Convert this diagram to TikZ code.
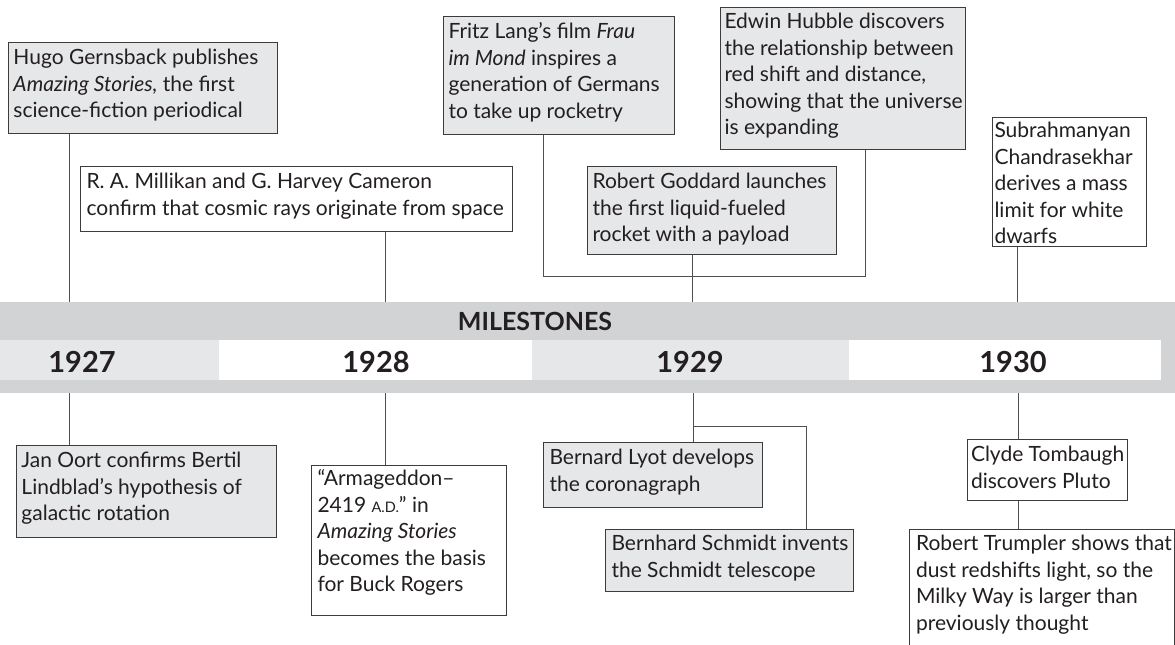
\documentclass[tikz,border=0pt]{standalone}
\usepackage{fontspec}
\setmainfont{Lato}
\definecolor{bandgray}{HTML}{D1D3D4}
\definecolor{cellgray}{HTML}{E6E7E8}
\definecolor{boxgray}{HTML}{E6E7E8}
\definecolor{boxline}{HTML}{3C3C3C}
\definecolor{linkline}{HTML}{505050}
\definecolor{inktext}{HTML}{231F20}
% text block of an event box: width, height, left inset, first baseline, lines
\newcommand{\evtext}[5]{\parbox[c][#2][t]{#1}{\vspace*{\dimexpr#4-0.7\baselineskip\relax}%
  \hspace*{#3}\begin{tabular}[t]{@{}l@{}}#5\end{tabular}}}
\newcommand{\fakesc}[1]{{\fontsize{14.5}{26.5}\selectfont #1}}
\begin{document}
\begin{tikzpicture}[x=1pt,y=-1pt,
  evbox/.style={draw=boxline, line width=1pt, anchor=north west, inner sep=0pt,
    text=inktext, font=\fontsize{21}{26.5}\selectfont},
  graybox/.style={evbox, fill=boxgray},
  whitebox/.style={evbox, fill=white},
  link/.style={draw=linkline, line width=1pt},
  yearlbl/.style={font=\fontsize{29}{30}\selectfont\bfseries, text=inktext, inner sep=0pt},
  cell/.style={draw=none, inner sep=0pt, anchor=north west},
]
\useasboundingbox (0,0) rectangle (1175,645);
\clip (0,0) rectangle (1175,645);

% timeline band and year cells
\node[cell, fill=bandgray, minimum width=1175pt, minimum height=91pt] (band) at (0,302) {};
\node[cell, fill=cellgray, minimum width=219pt, minimum height=40pt] (c27) at (0,340) {};
\node[cell, fill=white, minimum width=313pt, minimum height=40pt] (c28) at (219,340) {};
\node[cell, fill=cellgray, minimum width=317pt, minimum height=40pt] (c29) at (532,340) {};
\node[cell, fill=white, minimum width=312pt, minimum height=40pt] (c30) at (849,340) {};
\node[font=\fontsize{25}{26}\selectfont\bfseries, text=inktext, inner sep=0pt] (title) at (535,321) {MILESTONES};
\node[yearlbl] (y27) at (82,362) {1927};
\node[yearlbl] (y28) at (376,362) {1928};
\node[yearlbl] (y29) at (690,362) {1929};
\node[yearlbl] (y30) at (1013,362) {1930};

% events above the band
\node[graybox] (gern) at (7.5,42) {\evtext{269.5pt}{91pt}{5.5pt}{22pt}{Hugo Gernsback publishes\\ \textit{Amazing Stories,} the first\\ science-fiction periodical}};
\node[whitebox] (mill) at (80,166) {\evtext{432pt}{65pt}{6pt}{22pt}{R. A. Millikan and G. Harvey Cameron\\ confirm that cosmic rays originate from space}};
\node[graybox] (lang) at (443,16) {\evtext{231pt}{118pt}{5pt}{22pt}{Fritz Lang's film \textit{Frau}\\ \textit{im Mond} inspires a\\ generation of Germans\\ to take up rocketry}};
\node[graybox] (hubb) at (720,7) {\evtext{245pt}{142pt}{4pt}{21pt}{Edwin Hubble discovers\\ the relationship between\\ red shift and distance,\\ showing that the universe\\ is expanding}};
\node[graybox] (godd) at (587,166) {\evtext{249pt}{88pt}{5pt}{22pt}{Robert Goddard launches\\ the first liquid-fueled\\ rocket with a payload}};
\node[whitebox] (chan) at (992,117) {\evtext{154pt}{129pt}{2pt}{20pt}{Subrahmanyan\\ Chandrasekhar\\ derives a mass\\ limit for white\\ dwarfs}};

% events below the band
\node[graybox] (oort) at (15.5,445) {\evtext{260.5pt}{92pt}{5.5pt}{22pt}{Jan Oort confirms Bertil\\ Lindblad's hypothesis of\\ galactic rotation}};
\node[whitebox] (arma) at (311,465) {\evtext{195pt}{150pt}{6pt}{20pt}{``Armageddon--\\ 2419 \fakesc{A.D.}'' in\\ \textit{Amazing Stories}\\ becomes the basis\\ for Buck Rogers}};
\node[graybox] (lyot) at (543,442) {\evtext{219pt}{65pt}{6pt}{22pt}{Bernard Lyot develops\\ the coronagraph}};
\node[graybox] (schm) at (605,529) {\evtext{248pt}{62pt}{6pt}{21pt}{Bernhard Schmidt invents\\ the Schmidt telescope}};
\node[whitebox] (tomb) at (967,439) {\evtext{160pt}{61pt}{3.5pt}{22pt}{Clyde Tombaugh\\ discovers Pluto}};
\node[whitebox] (trum) at (909,529) {\evtext{265pt}{130pt}{6.5pt}{21pt}{Robert Trumpler shows that\\ dust redshifts light, so the\\ Milky Way is larger than\\ previously thought}};

% x positions of the connectors
\coordinate (xg) at (69,0);
\coordinate (xm) at (385,0);
\coordinate (xl) at (543,0);
\coordinate (xh) at (865,0);
\coordinate (xd) at (692,0);
\coordinate (xc) at (1017,0);
\coordinate (xo) at (69,0);
\coordinate (xa) at (385,0);
\coordinate (xy) at (693,0);
\coordinate (xs) at (806,0);
\coordinate (xt) at (1018,0);
\coordinate (jl) at (0,276);
\coordinate (js) at (0,426);

% connectors
\draw[link] (gern.south -| xg) -- (band.north -| xg);
\draw[link] (mill.south -| xm) -- (band.north -| xm);
\draw[link] (lang.south -| xl) -- (xl |- jl) -- (xh |- jl) -- (hubb.south -| xh);
\draw[link] (godd.south -| xd) -- (band.north -| xd);
\draw[link] (chan.south -| xc) -- (band.north -| xc);
\draw[link] (band.south -| xo) -- (oort.north -| xo);
\draw[link] (band.south -| xa) -- (arma.north -| xa);
\draw[link] (band.south -| xy) -- (lyot.north -| xy);
\draw[link] (xy |- js) -- (xs |- js) -- (schm.north -| xs);
\draw[link] (band.south -| xt) -- (tomb.north -| xt);
\draw[link] (tomb.south -| xt) -- (trum.north -| xt);
\end{tikzpicture}
\end{document}
